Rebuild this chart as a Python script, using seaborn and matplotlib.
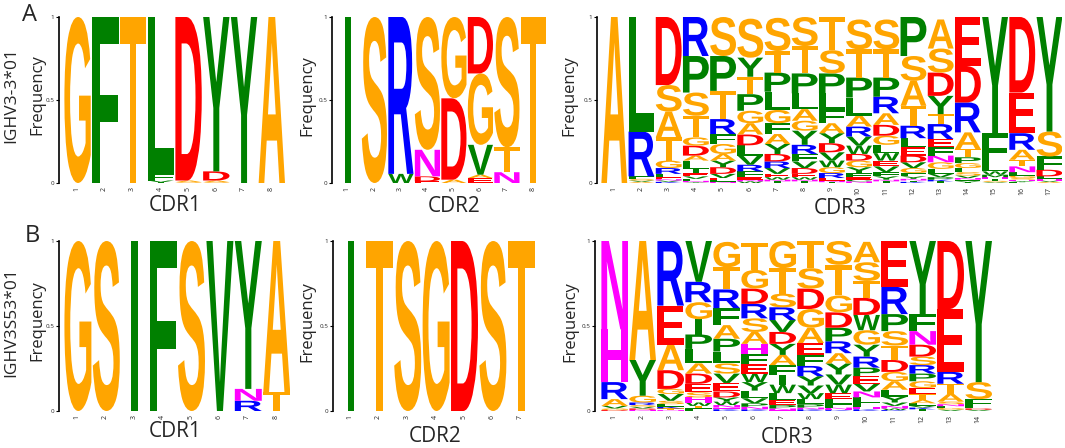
import matplotlib
matplotlib.use('Agg')
import matplotlib.pyplot as plt
import seaborn as sns
from matplotlib.textpath import TextPath
from matplotlib.font_manager import FontProperties
from matplotlib.patches import PathPatch
from matplotlib.transforms import Affine2D

# residue frequencies per position, listed top -> bottom as stacked in the logo
cdr1_a = [
    {'G': 1.0},
    {'F': 1.0},
    {'T': 1.0},
    {'L': 0.945, 'F': 0.04, 'V': 0.01, 'I': 0.005},
    {'D': 0.985, 'A': 0.01, 'S': 0.005},
    {'Y': 0.93, 'D': 0.055, 'A': 0.01, 'S': 0.005},
    {'Y': 1.0},
    {'A': 1.0},
]
cdr2_a = [
    {'I': 1.0},
    {'S': 1.0},
    {'R': 0.945, 'W': 0.055},
    {'S': 0.8, 'N': 0.16, 'D': 0.03, 'E': 0.01},
    {'G': 0.49, 'D': 0.49, 'A': 0.02},
    {'D': 0.34, 'G': 0.43, 'V': 0.18, 'A': 0.02, 'E': 0.03},
    {'S': 0.785, 'T': 0.15, 'N': 0.065},
    {'T': 1.0},
]
cdr3_a = [
    {'A': 1.0},
    {'L': 0.69, 'R': 0.27, 'F': 0.015, 'S': 0.01, 'V': 0.008, 'A': 0.007},
    {'D': 0.41, 'S': 0.16, 'A': 0.155, 'T': 0.14, 'G': 0.045, 'R': 0.035, 'L': 0.02,
     'E': 0.012, 'N': 0.008, 'V': 0.008, 'K': 0.007},
    {'R': 0.235, 'P': 0.22, 'S': 0.14, 'T': 0.13, 'G': 0.05, 'D': 0.06, 'A': 0.03, 'L': 0.05,
     'I': 0.025, 'E': 0.02, 'V': 0.015, 'F': 0.012, 'N': 0.008, 'Y': 0.005},
    {'S': 0.235, 'P': 0.21, 'T': 0.17, 'R': 0.09, 'F': 0.06, 'G': 0.06, 'A': 0.04, 'Y': 0.04,
     'D': 0.04, 'V': 0.025, 'E': 0.012, 'L': 0.01, 'N': 0.008},
    {'S': 0.235, 'Y': 0.115, 'T': 0.105, 'P': 0.1, 'G': 0.075, 'A': 0.068, 'D': 0.065, 'L': 0.062,
     'V': 0.055, 'R': 0.04, 'F': 0.035, 'E': 0.015, 'N': 0.01, 'W': 0.01},
    {'S': 0.2, 'T': 0.13, 'P': 0.115, 'L': 0.11, 'G': 0.08, 'F': 0.065, 'A': 0.06, 'Y': 0.06,
     'D': 0.045, 'R': 0.04, 'V': 0.035, 'E': 0.02, 'W': 0.015, 'N': 0.01, 'I': 0.01},
    {'S': 0.175, 'T': 0.165, 'P': 0.12, 'L': 0.095, 'A': 0.07, 'G': 0.06, 'Y': 0.085, 'R': 0.055,
     'F': 0.045, 'V': 0.04, 'D': 0.035, 'E': 0.02, 'W': 0.015, 'N': 0.01, 'I': 0.01},
    {'T': 0.2, 'S': 0.14, 'P': 0.12, 'L': 0.1, 'F': 0.08, 'A': 0.06, 'Y': 0.06, 'D': 0.055,
     'V': 0.05, 'W': 0.04, 'G': 0.035, 'R': 0.03, 'E': 0.015, 'N': 0.01, 'I': 0.005},
    {'S': 0.18, 'T': 0.17, 'P': 0.12, 'L': 0.11, 'A': 0.065, 'R': 0.06, 'V': 0.055, 'W': 0.05,
     'D': 0.04, 'G': 0.04, 'Y': 0.035, 'F': 0.025, 'E': 0.015, 'C': 0.01, 'N': 0.01},
    {'S': 0.18, 'T': 0.17, 'P': 0.115, 'R': 0.1, 'A': 0.07, 'D': 0.065, 'G': 0.055, 'L': 0.05,
     'W': 0.045, 'E': 0.035, 'V': 0.035, 'F': 0.025, 'Y': 0.02, 'N': 0.01, 'I': 0.01},
    {'P': 0.235, 'S': 0.15, 'A': 0.15, 'T': 0.12, 'R': 0.075, 'L': 0.055, 'E': 0.05, 'D': 0.04,
     'V': 0.035, 'G': 0.03, 'F': 0.02, 'Y': 0.015, 'N': 0.01, 'I': 0.008, 'K': 0.007},
    {'A': 0.175, 'S': 0.145, 'D': 0.14, 'Y': 0.11, 'T': 0.06, 'R': 0.09, 'E': 0.05, 'F': 0.05,
     'N': 0.04, 'G': 0.04, 'L': 0.03, 'V': 0.02, 'P': 0.015, 'K': 0.01, 'I': 0.01},
    {'E': 0.295, 'D': 0.22, 'R': 0.18, 'A': 0.1, 'T': 0.05, 'P': 0.035, 'G': 0.03, 'L': 0.025,
     'S': 0.02, 'V': 0.015, 'N': 0.01, 'F': 0.01, 'Y': 0.01},
    {'Y': 0.70, 'F': 0.19, 'L': 0.04, 'W': 0.02, 'M': 0.015, 'H': 0.012, 'I': 0.01, 'S': 0.008,
     'V': 0.005},
    {'D': 0.455, 'E': 0.245, 'R': 0.1, 'A': 0.06, 'T': 0.04, 'N': 0.035, 'L': 0.02, 'G': 0.015,
     'S': 0.01, 'H': 0.008, 'Y': 0.007, 'F': 0.005},
    {'Y': 0.69, 'S': 0.15, 'F': 0.08, 'D': 0.04, 'L': 0.015, 'H': 0.01, 'V': 0.008, 'A': 0.007},
]
cdr1_b = [
    {'G': 1.0},
    {'S': 1.0},
    {'I': 1.0},
    {'F': 1.0},
    {'S': 1.0},
    {'V': 1.0},
    {'Y': 0.87, 'N': 0.07, 'R': 0.06},
    {'A': 0.89, 'T': 0.11},
]
cdr2_b = [
    {'I': 1.0},
    {'T': 1.0},
    {'S': 1.0},
    {'G': 1.0},
    {'D': 1.0},
    {'S': 1.0},
    {'T': 1.0},
]
cdr3_b = [
    {'N': 0.52, 'H': 0.31, 'R': 0.10, 'A': 0.04, 'V': 0.015, 'G': 0.01, 'D': 0.005},
    {'A': 0.70, 'Y': 0.21, 'G': 0.04, 'R': 0.015, 'S': 0.01, 'V': 0.01, 'D': 0.008, 'N': 0.007},
    {'R': 0.38, 'E': 0.23, 'A': 0.15, 'D': 0.11, 'G': 0.03, 'V': 0.04, 'S': 0.02, 'L': 0.015,
     'K': 0.01, 'T': 0.01, 'N': 0.005},
    {'V': 0.24, 'R': 0.12, 'G': 0.1, 'I': 0.09, 'P': 0.085, 'L': 0.085, 'A': 0.06, 'D': 0.06,
     'E': 0.05, 'S': 0.03, 'H': 0.03, 'W': 0.02, 'T': 0.015, 'F': 0.015},
    {'G': 0.15, 'T': 0.13, 'R': 0.11, 'F': 0.1, 'A': 0.08, 'P': 0.075, 'L': 0.07, 'S': 0.06,
     'V': 0.055, 'E': 0.05, 'D': 0.035, 'Y': 0.025, 'W': 0.02, 'N': 0.015, 'H': 0.01, 'K': 0.01},
    {'T': 0.16, 'G': 0.11, 'D': 0.09, 'R': 0.085, 'S': 0.08, 'A': 0.07, 'H': 0.06, 'F': 0.06,
     'E': 0.055, 'W': 0.05, 'Y': 0.05, 'L': 0.045, 'V': 0.03, 'P': 0.02, 'N': 0.015, 'K': 0.01},
    {'G': 0.16, 'T': 0.15, 'S': 0.08, 'R': 0.075, 'V': 0.07, 'D': 0.07, 'Y': 0.065, 'A': 0.06,
     'F': 0.06, 'I': 0.055, 'W': 0.05, 'L': 0.04, 'E': 0.03, 'P': 0.02, 'N': 0.01, 'H': 0.005},
    {'T': 0.16, 'S': 0.12, 'D': 0.12, 'G': 0.11, 'A': 0.09, 'E': 0.07, 'F': 0.065, 'R': 0.06,
     'Y': 0.055, 'V': 0.045, 'W': 0.035, 'L': 0.03, 'P': 0.02, 'N': 0.01, 'K': 0.01},
    {'S': 0.14, 'T': 0.18, 'G': 0.1, 'D': 0.09, 'P': 0.08, 'R': 0.07, 'A': 0.06, 'Y': 0.065,
     'V': 0.06, 'W': 0.05, 'E': 0.035, 'L': 0.03, 'F': 0.02, 'N': 0.01, 'H': 0.005, 'K': 0.005},
    {'A': 0.12, 'S': 0.11, 'T': 0.1, 'D': 0.1, 'W': 0.09, 'G': 0.085, 'Y': 0.07, 'R': 0.065,
     'P': 0.05, 'E': 0.045, 'V': 0.045, 'N': 0.035, 'L': 0.03, 'F': 0.025, 'H': 0.015, 'K': 0.01},
    {'E': 0.27, 'R': 0.16, 'P': 0.1, 'S': 0.085, 'T': 0.085, 'D': 0.07, 'G': 0.055, 'A': 0.05,
     'L': 0.04, 'Y': 0.035, 'V': 0.02, 'N': 0.015, 'W': 0.01, 'K': 0.005},
    {'Y': 0.43, 'F': 0.1, 'N': 0.08, 'D': 0.07, 'S': 0.05, 'R': 0.05, 'P': 0.045, 'G': 0.04,
     'E': 0.035, 'T': 0.035, 'A': 0.02, 'L': 0.015, 'V': 0.01, 'K': 0.01, 'I': 0.01},
    {'D': 0.4, 'E': 0.37, 'R': 0.07, 'T': 0.06, 'A': 0.045, 'S': 0.015, 'N': 0.012, 'L': 0.01,
     'G': 0.01, 'V': 0.008},
    {'Y': 0.83, 'S': 0.1, 'F': 0.045, 'L': 0.01, 'D': 0.008, 'V': 0.007},
]

row_labels = ['IGHV3-3*01', 'IGHV3S53*01']
panel_letters = ['A', 'B']
region_labels = ['CDR1', 'CDR2', 'CDR3']

# residue colour groups
palette = {
    'GSTA': '#FFA500',
    'FLIYVWPMC': '#008000',
    'DE': '#FF0000',
    'RK': '#0000FF',
    'NQH': '#FF00FF',
}


def residue_color(aa):
    for group, col in palette.items():
        if aa in group:
            return col
    return 'grey'


glyph_font = FontProperties(family='Liberation Sans', weight='bold')
glyph_cache = {}


def draw_letter(ax, aa, x_left, y_bottom, width, height):
    if aa not in glyph_cache:
        glyph_cache[aa] = TextPath((0, 0), aa, size=1, prop=glyph_font)
    path = glyph_cache[aa]
    ext = path.get_extents()
    w = width * 0.25 if aa == 'I' else width
    xl = x_left + (width - w) / 2
    tr = (Affine2D().translate(-ext.x0, -ext.y0)
          .scale(w / ext.width, height / ext.height)
          .translate(xl, y_bottom))
    ax.add_patch(PathPatch(tr.transform_path(path), facecolor=residue_color(aa),
                           edgecolor='none', lw=0))


def draw_logo(ax, columns):
    for i, col in enumerate(columns, start=1):
        y = 0.0
        for aa, f in reversed(list(col.items())):
            draw_letter(ax, aa, i - 0.45, y, 0.95, f)
            y += f


sns.set_theme(style='white')
plt.rcParams['font.family'] = ['Open Sans', 'DejaVu Sans']

W, H = 1065, 448
fig = plt.figure(figsize=(W / 100, H / 100), dpi=100)

# (data, spine px, first column left px, column width px, top px, bottom px)
panels = [
    (cdr1_a, 59, 63, 27.75, 17, 183),
    (cdr2_a, 332, 334, 26.5, 17, 183),
    (cdr3_a, 597, 600, 27.2, 17, 183),
    (cdr1_b, 59, 63, 28.4, 241, 411),
    (cdr2_b, 333, 336, 28.4, 241, 411),
    (cdr3_b, 595, 600, 28.0, 241, 411),
]

for data, spine, left, cw, top, bottom in panels:
    n = len(data)
    right = left + n * cw
    ax = fig.add_axes([spine / W, (H - bottom) / H, (right - spine) / W, (bottom - top) / H])
    ax.set_facecolor('none')
    draw_logo(ax, data)
    ax.set_xlim(0.5 - (left - spine) / cw, n + 0.5)
    ax.set_ylim(0, 1)
    sns.despine(ax=ax, top=True, right=True, bottom=True)
    ax.spines['left'].set_color('black')
    ax.spines['left'].set_linewidth(1.2)
    ax.set_yticks([0, 0.5, 1])
    ax.set_yticklabels(['0', '0.5', '1'])
    ax.set_xticks(range(1, n + 1))
    ax.set_xticklabels([str(i) for i in range(1, n + 1)], rotation=90)
    ax.tick_params(axis='y', left=True, length=2.5, width=0.8, pad=1, labelsize=4.5,
                   color='black')
    ax.tick_params(axis='x', bottom=False, length=0, pad=3, labelsize=5)
    ax.grid(False)


def fig_text(x, y, s, **kw):
    fig.text(x / W, 1 - y / H, s, ha='center', va='center', **kw)


# y axis titles
for x, y in [(37, 95), (307, 96), (569, 96), (37, 321), (307, 322), (570, 322)]:
    fig_text(x, y, 'Frequency', fontsize=12, rotation=90)

# x axis titles
for (x, y), lab in zip([(175, 205), (454, 206), (840, 208)], region_labels):
    fig_text(x, y, lab, fontsize=15)
for (x, y), lab in zip([(175, 431), (435, 436), (787, 437)], region_labels):
    fig_text(x, y, lab, fontsize=15)

# germline row labels and panel letters
fig_text(11, 95, row_labels[0], fontsize=12.5, rotation=90)
fig_text(11, 322, row_labels[1], fontsize=12.5, rotation=90)
fig_text(30, 15, panel_letters[0], fontsize=17)
fig_text(32, 236, panel_letters[1], fontsize=17)

fig.savefig('out.png', dpi=100)
